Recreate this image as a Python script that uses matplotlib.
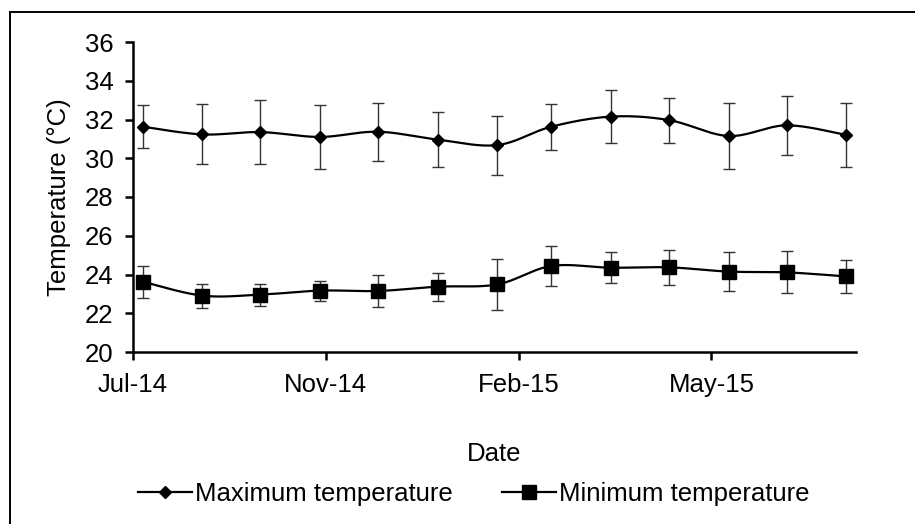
import numpy as np
import pandas as pd
import matplotlib
matplotlib.use("Agg")
import matplotlib.pyplot as plt
import matplotlib.dates as mdates
from matplotlib.lines import Line2D
from matplotlib.patches import Rectangle

plt.rcParams['font.family'] = ['Liberation Sans', 'DejaVu Sans']

# monthly sampling dates (month ends)
dates = ["2014-07-31", "2014-08-31", "2014-09-30", "2014-10-31", "2014-11-30",
         "2014-12-31", "2015-01-31", "2015-02-28", "2015-03-31", "2015-04-30",
         "2015-05-31", "2015-06-30", "2015-07-31"]

max_temp = [31.63, 31.23, 31.35, 31.10, 31.37, 30.96, 30.68, 31.63, 32.15, 31.97, 31.15, 31.70, 31.20]
max_err = [1.12, 1.55, 1.65, 1.63, 1.49, 1.41, 1.52, 1.19, 1.36, 1.16, 1.71, 1.51, 1.65]

min_temp = [23.63, 22.91, 22.96, 23.17, 23.15, 23.37, 23.49, 24.44, 24.35, 24.37, 24.15, 24.11, 23.90]
min_err = [0.82, 0.62, 0.57, 0.52, 0.81, 0.72, 1.32, 1.01, 0.79, 0.92, 1.01, 1.09, 0.87]

axis_start = "2014-07-26"
axis_end = "2015-08-05"
y_ticks = [20, 22, 24, 26, 28, 30, 32, 34, 36]

FS = 18.5


def smooth(x, y, n=20):
    # catmull-rom curve through the points, like the spreadsheet "smoothed line"
    x = np.asarray(x, float)
    y = np.asarray(y, float)
    px = np.concatenate([[x[0]], x, [x[-1]]])
    py = np.concatenate([[y[0]], y, [y[-1]]])
    t = np.linspace(0, 1, n, endpoint=False)
    xs, ys = [], []
    for i in range(1, len(px) - 2):
        for P, out in ((px, xs), (py, ys)):
            p0, p1, p2, p3 = P[i - 1], P[i], P[i + 1], P[i + 2]
            out.extend(0.5 * (2 * p1 + (-p0 + p2) * t
                              + (2 * p0 - 5 * p1 + 4 * p2 - p3) * t ** 2
                              + (-p0 + 3 * p1 - 3 * p2 + p3) * t ** 3))
    xs.append(x[-1])
    ys.append(y[-1])
    return np.array(xs), np.array(ys)


xd = mdates.date2num(pd.to_datetime(dates))
x0 = mdates.date2num(pd.Timestamp(axis_start))
x1 = mdates.date2num(pd.Timestamp(axis_end))

fig = plt.figure(figsize=(9.15, 5.24), dpi=100)
ax = fig.add_axes([133 / 915, 1 - 352 / 524, 723 / 915, 310 / 524])

for vals, errs, mk, ms in ((max_temp, max_err, 'D', 6.5), (min_temp, min_err, 's', 9.5)):
    sx, sy = smooth(xd, vals)
    ax.plot(sx, sy, color='black', lw=1.6, zorder=3)
    ax.errorbar(xd, vals, yerr=errs, fmt='none', ecolor='#333333', elinewidth=1.0,
                capsize=4, capthick=1.0, zorder=2)
    ax.plot(xd, vals, ls='none', marker=mk, ms=ms, color='black', zorder=4)

ax.set_xlim(x0, x1)
ax.set_ylim(20, 36)
ax.set_yticks(y_ticks)
ax.set_xticks(x0 + np.arange(0, 301, 100))
ax.xaxis.set_major_formatter(mdates.DateFormatter('%b-%y'))

for s in ('top', 'right'):
    ax.spines[s].set_visible(False)
for s in ('left', 'bottom'):
    ax.spines[s].set_linewidth(1.8)
ax.tick_params(axis='both', direction='out', length=6, width=1.8, labelsize=FS, pad=8)
ax.tick_params(axis='x', pad=9)

ax.set_ylabel('Temperature (°C)', fontsize=FS)
ax.yaxis.set_label_coords(-0.086, 0.5)
ax.set_xlabel('Date', fontsize=FS)
ax.xaxis.set_label_coords(0.5, -0.29)

handles = [Line2D([], [], color='black', lw=1.6, marker='D', ms=6.5),
           Line2D([], [], color='black', lw=1.6, marker='s', ms=9.5)]
fig.legend(handles, ['Maximum temperature', 'Minimum temperature'], loc='center',
           bbox_to_anchor=(474 / 915, 1 - 494 / 524), ncol=2, frameon=False,
           fontsize=FS, handlelength=2.1, handletextpad=0.12, columnspacing=1.9)

# chart area frame (right and bottom edges fall outside the picture)
fig.add_artist(Rectangle((10 / 915, -0.1), 1.2, (1 - 12 / 524) + 0.1,
                         transform=fig.transFigure, fill=False, lw=1.4, ec='black'))

fig.savefig('out.png', dpi=100)
